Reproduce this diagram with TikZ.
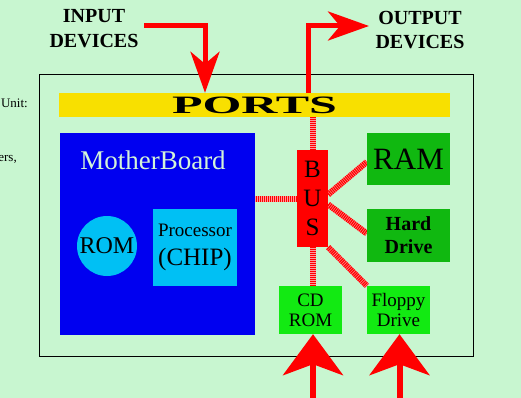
\documentclass[tikz,border=0pt]{standalone}
\usepackage{fontspec}
\setmainfont{Liberation Serif}
\usepackage{graphicx}
\usetikzlibrary{arrows.meta, positioning}

\newcommand\setfs[2]{\fontsize{#1}{#2}\selectfont}
\pgfdeclarelayer{bg}
\pgfsetlayers{bg,main}

\begin{document}
\begin{tikzpicture}[x=1pt, y=-1pt, >=Stealth,
  box/.style={rectangle, inner sep=0pt, align=center},
  bigarrow/.style={red, line width=5pt, -{Stealth[length=41pt, width=29pt, inset=12pt]}},
  uparrow/.style={red, line width=6pt, -{Stealth[length=41pt, width=60pt, inset=11pt]}},
  busline/.style={line width=6pt, red!40!white, postaction={draw=red, line width=6pt, dash pattern=on 1.2pt off 0.8pt}}]
  \definecolor{page}{HTML}{C8F6D0}
  \definecolor{board}{HTML}{0000F0}
  \definecolor{chip}{HTML}{00C0F4}
  \definecolor{port}{HTML}{F8E000}
  \definecolor{store}{HTML}{10B810}
  \definecolor{drive}{HTML}{12EA12}
  \definecolor{boardtext}{HTML}{D4F4D8}

  \useasboundingbox (0,0) rectangle (521,398);
  \begin{pgfonlayer}{bg}
    \fill[page] (0,0) rectangle (521,398);
  \end{pgfonlayer}

  % Define positions
  \node (unit) [draw, thick, minimum width=434pt, minimum height=282pt] at (256,215) {};
  \node (indev) [box, font=\setfs{20}{25}\bfseries] at (94,29) {INPUT\\DEVICES};
  \node (outdev) [box, font=\setfs{20}{24}\bfseries] at (420,30.5) {OUTPUT\\DEVICES};
  \node (unittxt) [box, anchor=east, font=\setfs{13}{15}] at (28,103) {Unit:};
  \node (erstxt) [box, anchor=east, font=\setfs{13}{15}] at (17,159) {ers,};

  \node (ports) [box, fill=port, minimum width=391pt, minimum height=24pt] at (254.5,105)
    {\setfs{25}{28}\bfseries\scalebox{2}[1]{PORTS}};

  \node (mboard) [box, fill=board, minimum width=195pt, minimum height=202pt] at (157.5,234) {};
  \node (mbtitle) [box, text=boardtext, font=\setfs{27}{30}] at (153,160) {MotherBoard};
  \node (rom) [circle, inner sep=0pt, fill=chip, minimum size=60pt, font=\setfs{24}{26}] at (107,246) {ROM};
  \node (proc) [box, fill=chip, minimum width=84pt, minimum height=77pt] at (195,247.5)
    {\setfs{19}{22}Processor\\[10pt]{\setfs{25}{28}(CHIP)}};

  \node (bus) [box, fill=red, minimum width=31pt, minimum height=97pt, font=\setfs{25}{29}] at (312.5,198.5) {B\\U\\S};
  \node (ram) [box, fill=store, minimum width=83pt, minimum height=52pt, font=\setfs{31}{32}] at (408.5,159) {RAM};
  \node (hdd) [box, fill=store, minimum width=83pt, minimum height=53pt, font=\setfs{20}{23}\bfseries] at (408.5,235.5) {Hard\\Drive};
  \node (cdrom) [box, fill=drive, minimum width=63pt, minimum height=48pt, font=\setfs{19}{20}] at (310.5,310) {CD\\ROM};
  \node (floppy) [box, fill=drive, minimum width=63pt, minimum height=48pt, font=\setfs{19}{20}] at (398.5,310) {Floppy\\Drive};

  \coordinate (instart) at (144,26);
  \coordinate (inbend) at (205,26);
  \coordinate (outbend) at (308,26);
  \coordinate (outtip) at (369,26);
  \coordinate (cdsrc) at (313,405);
  \coordinate (flsrc) at (399.5,405);

  % Bus lines
  \begin{pgfonlayer}{bg}
    \draw[busline] (bus.west) -- (bus.west -| mboard.east);
    \draw[busline] (bus.north) -- (bus.north |- ports.south);
    \draw[busline] (bus.south) -- (bus.south |- cdrom.north);
    \draw[busline] ([yshift=4pt]bus.east) -- ([yshift=-3pt]ram.west);
    \draw[busline] ([yshift=-6pt]bus.east) -- ([yshift=2pt]hdd.west);
    \draw[busline] (bus.south east) -- (floppy.north west);
  \end{pgfonlayer}

  % Arrows
  \draw[bigarrow] (instart) -- (inbend) -- (inbend |- ports.north);
  \draw[bigarrow] (outbend |- ports.north) -- (outbend) -- (outtip);
  \draw[uparrow] (cdsrc) -- (cdsrc |- cdrom.south);
  \draw[uparrow] (flsrc) -- (flsrc |- floppy.south);
\end{tikzpicture}
\end{document}
